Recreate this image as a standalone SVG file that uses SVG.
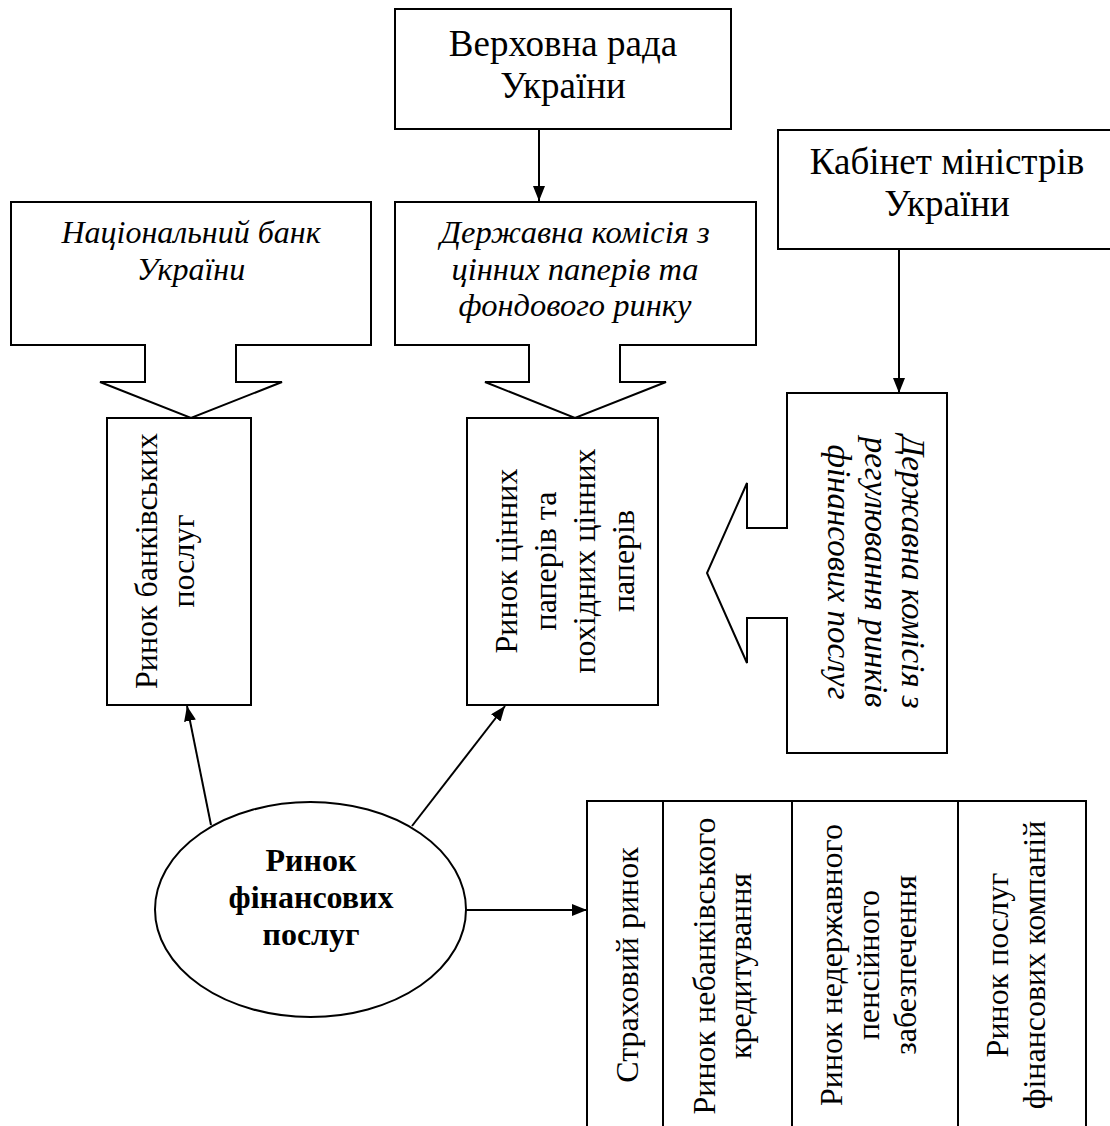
<svg xmlns="http://www.w3.org/2000/svg" width="1110" height="1126" viewBox="0 0 1110 1126">
<style>
.shape{fill:#fff;stroke:#000;stroke-width:2}
.t{font-family:'Liberation Serif','DejaVu Serif',serif;font-size:32px;fill:#000;text-anchor:middle}
.h{font-size:37px}
.i{font-style:italic;font-size:32.5px}
.b{font-weight:bold;font-size:32px}
.line{stroke:#000;stroke-width:2}
.conn{stroke:#000;stroke-width:2;fill:none;marker-end:url(#ah)}
</style>
<defs>
<marker id="ah" markerUnits="userSpaceOnUse" markerWidth="16" markerHeight="14" refX="15" refY="6" orient="auto">
<path d="M0,0 L15,6 L0,12 Z" fill="#000"/>
</marker>
</defs>
<rect width="1110" height="1126" fill="#fff"/>
<g id="connectors">
<line class="conn" x1="539" y1="129" x2="539" y2="201"/>
<line class="conn" x1="899" y1="249" x2="899" y2="393"/>
<line class="conn" x1="211" y1="825" x2="187" y2="706"/>
<line class="conn" x1="412" y1="826" x2="505" y2="706"/>
<line class="conn" x1="466" y1="910" x2="587" y2="910"/>
</g>
<g id="verkhovna-rada">
<rect class="shape" x="395" y="9" width="336" height="120"/>
<text class="t h" x="563" y="56">Верховна рада<tspan x="563" dy="42">України</tspan></text>
</g>
<g id="kabinet">
<rect class="shape" x="778" y="130" width="340" height="119"/>
<text class="t h" x="947" y="174">Кабінет міністрів<tspan x="947" dy="42">України</tspan></text>
</g>
<g id="nbu">
<path class="shape" d="M11,202 H371 V345 H236 V382 H282 L191,418 L100,382 H145 V345 H11 Z"/>
<text class="t i" x="191" y="243" style="font-size:32px">Національний банк<tspan x="191" dy="37">України</tspan></text>
</g>
<g id="dktspfr">
<path class="shape" d="M395,202 H756 V345 H620 V382 H666 L575,418 L485,382 H529 V345 H395 Z"/>
<text class="t i" x="575" y="243">Державна комісія з<tspan x="575" dy="37">цінних паперів та</tspan><tspan x="575" dy="36">фондового ринку</tspan></text>
</g>
<g id="regulator">
<path class="shape" d="M787,393 H947 V753 H787 V618 H747 V663 L707,573 L747,483 V528 H787 Z"/>
<text class="t i" transform="translate(902,572) rotate(90)" x="0" y="0" style="font-size:33px">Державна комісія з<tspan x="0" dy="37">регулювання ринків</tspan><tspan x="0" dy="37">фінансових послуг</tspan></text>
</g>
<g id="bank-market">
<rect class="shape" x="107" y="418" width="144" height="287"/>
<text class="t" transform="translate(157,561) rotate(-90)" x="0" y="0">Ринок банківських<tspan x="0" dy="37">послуг</tspan></text>
</g>
<g id="securities-market">
<rect class="shape" x="467" y="418" width="191" height="287"/>
<text class="t" transform="translate(517,561) rotate(-90)" x="0" y="0">Ринок цінних<tspan x="0" dy="39">паперів та</tspan><tspan x="0" dy="39">похідних цінних</tspan><tspan x="0" dy="39">паперів</tspan></text>
</g>
<g id="financial-services">
<ellipse class="shape" cx="310.5" cy="909.5" rx="155.5" ry="107.5"/>
<text class="t b" x="311" y="871">Ринок<tspan x="311" dy="37">фінансових</tspan><tspan x="311" dy="37">послуг</tspan></text>
</g>
<g id="nonbank-markets">
<rect class="shape" x="587" y="801" width="499" height="330"/>
<line class="line" x1="663" y1="801" x2="663" y2="1131"/>
<line class="line" x1="792" y1="801" x2="792" y2="1131"/>
<line class="line" x1="958" y1="801" x2="958" y2="1131"/>
<text class="t" transform="translate(638,965) rotate(-90)" x="0" y="0">Страховий ринок</text>
<text class="t" transform="translate(715,966) rotate(-90)" x="0" y="0">Ринок небанківського<tspan x="0" dy="36">кредитування</tspan></text>
<text class="t" transform="translate(842,965) rotate(-90)" x="0" y="0">Ринок недержавного<tspan x="0" dy="37">пенсійного</tspan><tspan x="0" dy="37">забезпечення</tspan></text>
<text class="t" transform="translate(1008,965) rotate(-90)" x="0" y="0">Ринок послуг<tspan x="0" dy="37">фінансових компаній</tspan></text>
</g>
</svg>
